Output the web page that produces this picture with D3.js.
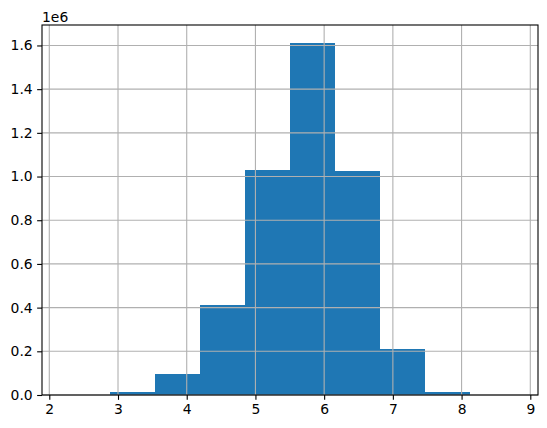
<!DOCTYPE html>
<html>
<head>
<meta charset="utf-8">
<script src="https://cdn.jsdelivr.net/npm/d3@7"></script>
<style>
  html, body { margin: 0; padding: 0; background: #fff; }
  svg { display: block; }
  text { font-family: "DejaVu Sans", sans-serif; fill: #000; }
</style>
</head>
<body>
<svg id="chart" width="547" height="428"></svg>
<script>
// Histogram bin edges (10 bins) and counts
const binEdges = [2.222, 2.878, 3.534, 4.191, 4.847, 5.503, 6.159, 6.815, 7.472, 8.128, 8.784];
const binCounts = [150, 12000, 96000, 411000, 1029000, 1613000, 1027000, 210000, 13000, 200];
const xTicks = [2, 3, 4, 5, 6, 7, 8, 9];
const yTicks = [0, 200000, 400000, 600000, 800000, 1000000, 1200000, 1400000, 1600000];
const offsetLabel = "1e6";

const W = 547, H = 428;
const m = { left: 42, right: 538, top: 25, bottom: 395 };
const svg = d3.select("#chart");

const xMin = binEdges[0], xMax = binEdges[binEdges.length - 1];
const xPad = (xMax - xMin) * 0.05;
const x = d3.scaleLinear().domain([xMin - xPad, xMax + xPad]).range([m.left, m.right]);
const yMax = d3.max(binCounts) * 1.05;
const y = d3.scaleLinear().domain([0, yMax]).range([m.bottom, m.top]);

const bins = binCounts.map((c, i) => ({ x0: binEdges[i], x1: binEdges[i + 1], c }));

// bars
svg.append("g").attr("shape-rendering", "crispEdges").selectAll("rect").data(bins).enter().append("rect")
  .attr("x", d => x(d.x0))
  .attr("width", d => x(d.x1) - x(d.x0))
  .attr("y", d => y(d.c))
  .attr("height", d => y(0) - y(d.c))
  .attr("fill", "#1f77b4");

// grid (drawn above bars)
const grid = svg.append("g").attr("stroke", "#b0b0b0").attr("stroke-width", 1.1);
grid.selectAll(".gx").data(xTicks).enter().append("line")
  .attr("x1", d => x(d)).attr("x2", d => x(d))
  .attr("y1", m.top).attr("y2", m.bottom);
grid.selectAll(".gy").data(yTicks).enter().append("line")
  .attr("x1", m.left).attr("x2", m.right)
  .attr("y1", d => y(d)).attr("y2", d => y(d));

// axes
const fmtY = d => (d / 1e6).toFixed(1);
const xAxis = d3.axisBottom(x).tickValues(xTicks).tickSize(4.86).tickPadding(4.5).tickFormat(d3.format("d"));
const yAxis = d3.axisLeft(y).tickValues(yTicks).tickSize(4.86).tickPadding(4.5).tickFormat(fmtY);

const gx = svg.append("g").attr("transform", `translate(0,${m.bottom})`).call(xAxis);
const gy = svg.append("g").attr("transform", `translate(${m.left},0)`).call(yAxis);
[gx, gy].forEach(g => {
  g.select(".domain").remove();
  g.selectAll(".tick line").attr("stroke", "#000").attr("stroke-width", 1.1);
  g.selectAll(".tick text").style("font-size", "13.9px").style("font-family", "DejaVu Sans, sans-serif").attr("fill", "#000");
});

// spines
svg.append("rect")
  .attr("x", m.left).attr("y", m.top)
  .attr("width", m.right - m.left).attr("height", m.bottom - m.top)
  .attr("fill", "none").attr("stroke", "#000").attr("stroke-width", 1.1);

// offset text
svg.append("text").attr("x", m.left).attr("y", 21.5)
  .style("font-size", "13.9px").text(offsetLabel);
</script>
</body>
</html>
